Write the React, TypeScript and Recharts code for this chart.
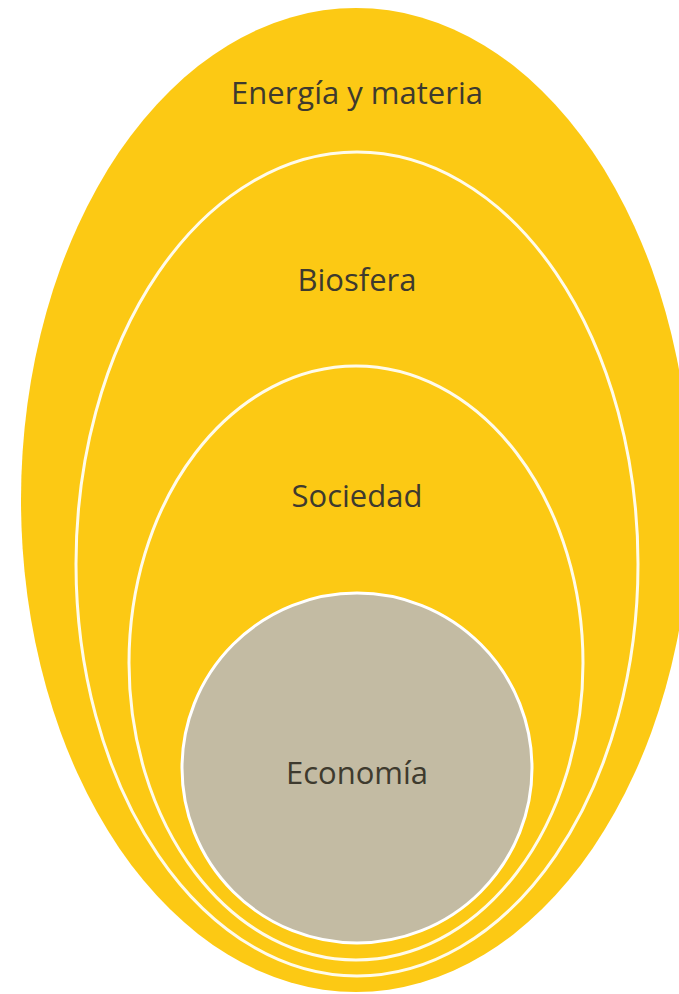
import { ScatterChart, Scatter, XAxis, YAxis } from 'recharts';

// nested spheres, outer to inner
const layers = ['Energía y materia', 'Biosfera', 'Sociedad', 'Economía'];
const centerX = [356, 357, 356, 357];
const centerY = [500, 564, 663, 768];
const radiusX = [335, 281, 227, 175];
const radiusY = [492, 412, 297, 175];
const labelX = [357, 357, 357, 357];
const labelY = [104, 291, 507, 784];

const W = 679;
const H = 994;

const fills = ['#FCC914', '#FCC914', '#FCC914', '#C3BBA3'];
const strokes = ['none', '#FFFBEA', '#FFFBEA', '#FFFFFF'];

const shapes = layers.map((name, i) => ({
    name,
    x: centerX[i],
    y: centerY[i],
    rx: radiusX[i],
    ry: radiusY[i],
    idx: i,
}));

const labels = layers.map((name, i) => ({ name, x: labelX[i], y: labelY[i] }));

// axes are identity scales (domain == pixel size), so radii are in the same units
const kx = W / W;
const ky = H / H;

const EllipseShape = (props: any) => {
    const { cx, cy, payload } = props;
    const i = payload.idx;
    return (
        <ellipse
            cx={cx}
            cy={cy}
            rx={payload.rx * kx}
            ry={payload.ry * ky}
            fill={fills[i]}
            stroke={strokes[i]}
            strokeWidth={i === 0 ? 0 : 3}
        />
    );
};

const LabelShape = (props: any) => {
    const { cx, cy, payload } = props;
    return (
        <text
            x={cx}
            y={cy}
            textAnchor="middle"
            fontFamily="'Open Sans', sans-serif"
            fontSize={31}
            fill="#3E3A2E"
        >
            {payload.name}
        </text>
    );
};

export default function App() {
    return (
        <div style={{ position: 'absolute', left: 0, top: 0, width: W, height: H, background: '#fff' }}>
            <ScatterChart width={W} height={H} margin={{ top: 0, right: 0, bottom: 0, left: 0 }}>
                <XAxis type="number" dataKey="x" domain={[0, W]} hide />
                <YAxis type="number" dataKey="y" domain={[0, H]} reversed hide />
                <Scatter data={shapes} shape={EllipseShape} isAnimationActive={false} />
                <Scatter data={labels} shape={LabelShape} isAnimationActive={false} />
            </ScatterChart>
        </div>
    );
}
